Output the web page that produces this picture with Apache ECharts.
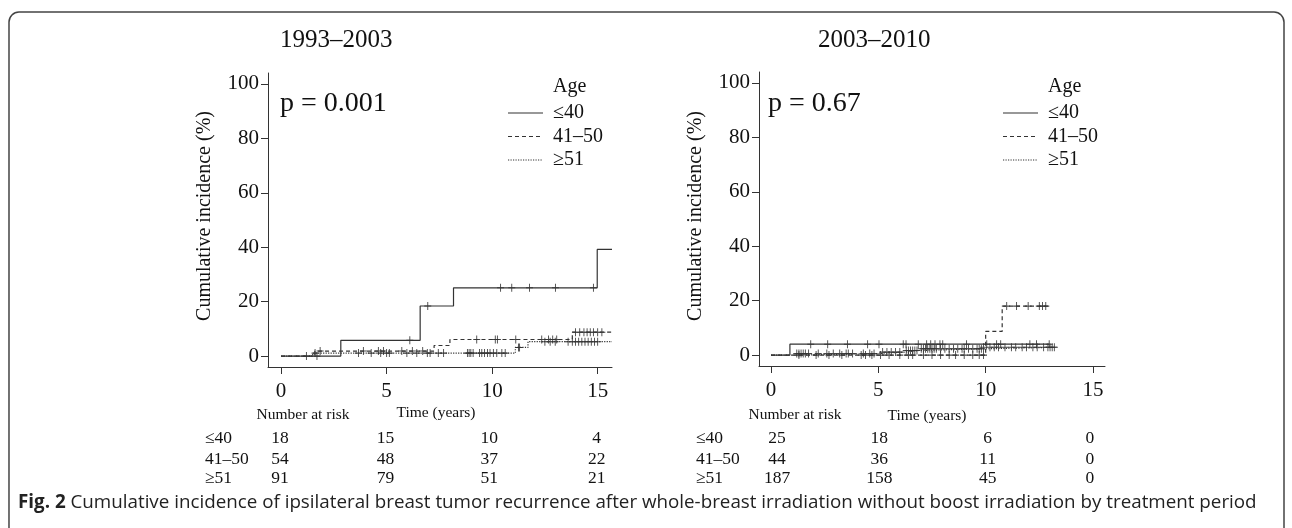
<!DOCTYPE html>
<html>
<head>
<meta charset="utf-8">
<script src="https://cdn.jsdelivr.net/npm/echarts@6.0.0/dist/echarts.min.js"></script>
<style>
  html, body { margin: 0; padding: 0; background: #fff; }
  #main { width: 1292px; height: 528px; }
</style>
</head>
<body>
<div id="main"></div>
<script>
// step curves: [time, cumulative incidence from that time on]
const left_le40 = [[0, 0], [2.83, 5.8], [6.59, 18.4], [8.17, 25.1], [14.98, 39.2], [15.68, 39.2]];
const left_41to50 = [[0, 0], [1.6, 1.85], [7.25, 3.9], [8.0, 6.1], [13.8, 8.8], [15.68, 8.8]];
const left_ge51 = [[0, 0], [1.5, 1.1], [11.1, 3.2], [11.7, 5.3], [15.68, 5.3]];

const right_le40 = [[0, 0], [0.88, 4.0], [12.96, 4.0]];
const right_41to50 = [[0, 0], [10.0, 8.7], [10.77, 18.0], [12.95, 18.0]];
const right_ge51 = [[0, 0], [1.0, 0.55], [4.9, 1.1], [6.2, 1.7], [6.9, 2.3], [9.9, 2.9], [13.3, 2.9]];

// censoring times
const left_le40_cens = [1.2, 1.7, 6.1, 6.95, 10.4, 10.93, 11.77, 13.0, 14.8];
const left_41to50_cens = [1.85, 3.9, 4.61, 4.85, 5.72, 6.22, 6.71, 9.27, 10.15, 10.25, 11.12, 12.35, 12.67, 12.87, 13.06,
  13.95, 14.15, 14.35, 14.5, 14.65, 14.8, 15.0, 15.2];
const left_ge51_cens = [1.61, 3.67, 4.27, 4.72, 5.0, 5.13, 5.96, 6.43, 6.93, 7.06, 7.45, 7.7, 8.83, 8.91, 8.99, 9.1,
  9.4, 9.51, 9.64, 9.78, 9.9, 10.06, 10.22, 10.46, 10.62, 11.25, 11.3, 12.5, 12.75, 12.99, 13.6, 13.8, 13.95,
  14.1, 14.25, 14.4, 14.55, 14.7, 14.85, 15.0];

const right_le40_cens = [1.85, 2.64, 3.56, 4.5, 5.03, 6.16, 6.29, 6.86, 7.25, 7.44, 7.64, 7.87, 8.0, 9.11, 10.05,
  10.51, 10.7, 12.06, 12.37, 12.96];
const right_41to50_cens = [1.3, 2.1, 2.7, 3.3, 4.2, 4.4, 4.7, 5.1, 5.5, 6.0, 6.4, 6.6, 7.1, 7.5, 7.9, 8.3, 8.6, 9.0,
  9.4, 9.7, 9.9, 10.98, 11.44, 11.98, 12.5, 12.65, 12.8];
const right_ge51_cens = [1.2, 1.3, 1.4, 1.5, 1.6, 1.75, 2.2, 2.6, 2.9, 3.2, 3.5, 3.6, 3.8, 4.3, 4.6, 4.8, 5.2, 5.4,
  5.6, 5.8, 6.0, 6.3, 6.4, 6.5, 6.6, 6.7, 6.8, 7.0, 7.1, 7.2, 7.3, 7.4, 7.5, 7.6, 7.7, 7.9, 8.1, 8.3, 8.5, 8.7,
  8.9, 9.0, 9.2, 9.4, 9.6, 9.7, 9.8, 9.9, 10.2, 10.4, 10.6, 10.9, 11.2, 11.4, 11.7, 11.9, 12.2, 12.4, 12.7, 12.9,
  13.0, 13.1, 13.2];

const groups = ["\u226440", "41\u201350", "\u226551"];
const xTicks = [0, 5, 10, 15];
const yTicks = [0, 20, 40, 60, 80, 100];
const riskTimes = [0, 5, 10, 15];
const left_risk = [[18, 15, 10, 4], [54, 48, 37, 22], [91, 79, 51, 21]];
const right_risk = [[25, 18, 6, 0], [44, 36, 11, 0], [187, 158, 45, 0]];

const titles = ["1993\u20132003", "2003\u20132010"];
const pValues = ["p = 0.001", "p = 0.67"];
const caption = "Cumulative incidence of ipsilateral breast tumor recurrence after whole-breast irradiation without boost irradiation by treatment period";

const SERIF = "Liberation Serif";
const INK = "#333";
const lineTypes = ["solid", [4, 3], [1.2, 1.3]];
const plusPath = "path://M4.35,0H5.65V4.35H10V5.65H5.65V10H4.35V5.65H0V4.35H4.35Z";

function stepAt(curve, t) {
  let v = 0;
  for (const [x, y] of curve) {
    if (x <= t) v = y; else break;
  }
  return v;
}

const panels = [
  { curves: [left_le40, left_41to50, left_ge51], cens: [left_le40_cens, left_41to50_cens, left_ge51_cens],
    grid: { left: 268, top: 73, width: 344, height: 294 }, xmin: -0.62, xmax: 15.68 },
  { curves: [right_le40, right_41to50, right_ge51], cens: [right_le40_cens, right_41to50_cens, right_ge51_cens],
    grid: { left: 759, top: 72, width: 346, height: 294 }, xmin: -0.56, xmax: 15.56 }
];

const axisLine = { show: true, onZero: false, lineStyle: { color: INK, width: 1 } };
const axisLabel = { fontFamily: SERIF, fontSize: 21, color: "#111" };

const grid = [], xAxis = [], yAxis = [], series = [];
panels.forEach((p, i) => {
  grid.push(p.grid);
  xAxis.push({
    gridIndex: i, type: "value", min: p.xmin, max: p.xmax,
    axisLine: axisLine, splitLine: { show: false },
    axisTick: { customValues: xTicks, length: 7, lineStyle: { color: INK } },
    axisLabel: Object.assign({ customValues: xTicks, margin: 14 }, axisLabel)
  });
  yAxis.push({
    gridIndex: i, type: "value", min: -4, max: 104,
    axisLine: axisLine, splitLine: { show: false },
    axisTick: { show: true, customValues: yTicks, length: 7, lineStyle: { color: INK } },
    axisLabel: Object.assign({ customValues: yTicks, margin: 9 }, axisLabel)
  });
  p.curves.forEach((c, k) => {
    series.push({
      type: "line", xAxisIndex: i, yAxisIndex: i, step: "end", data: c,
      showSymbol: false, silent: true,
      lineStyle: { color: INK, width: 1.2, type: lineTypes[k] }
    });
    series.push({
      type: "scatter", xAxisIndex: i, yAxisIndex: i, silent: true,
      data: p.cens[k].map(t => [t, stepAt(c, t)]),
      symbol: plusPath, symbolSize: [7, 8],
      itemStyle: { color: INK, opacity: 0.9 }
    });
  });
});

const chart = echarts.init(document.getElementById("main"));
chart.setOption({
  animation: false,
  backgroundColor: "#fff",
  grid: grid, xAxis: xAxis, yAxis: yAxis, series: series
});

// annotations, legend, risk table
const g = [];
g.push({ type: "rect", shape: { x: 9, y: 12, width: 1275, height: 560, r: 10 },
  style: { fill: "none", stroke: "#444", lineWidth: 1.5 } });
function txt(x, y, text, size, align, extra) {
  return Object.assign({ type: "text", x: x, y: y,
    style: { text: text, fontFamily: SERIF, fontSize: size, fill: "#111",
      align: align || "left", verticalAlign: "middle" } }, extra || {});
}
const titleX = [280, 818];
const pX = [280, 768];
const legX = [508, 1003];
const ylabX = [205, 696];
const rowLabX = [205, 696];
const narX = [303, 795];
const timeX = [436, 927];
const timeY = [413, 416];
const rowY = [438, 459, 478];
const riskTables = [left_risk, right_risk];
const riskShift = [[-1, -1, -3, -1], [6, 1, 2, -3]];

panels.forEach((p, i) => {
  g.push(txt(titleX[i], 40, titles[i], 25, "left"));
  g.push(txt(pX[i], 104, pValues[i], 28, "left"));
  g.push(txt(ylabX[i], 216, "Cumulative incidence (%)", 20, "center", { rotation: Math.PI / 2 }));
  g.push(txt(legX[i] + 45, 87, "Age", 20, "left"));
  groups.forEach((name, k) => {
    const y = 113 + k * 23.5;
    g.push({ type: "line", shape: { x1: legX[i], y1: y, x2: legX[i] + 35, y2: y },
      style: { stroke: INK, lineWidth: 1.2, lineDash: lineTypes[k] === "solid" ? null : lineTypes[k] } });
    g.push(txt(legX[i] + 45, y, name, 20, "left"));
  });
  g.push(txt(narX[i], 415, "Number at risk", 15.5, "center"));
  g.push(txt(timeX[i], timeY[i], "Time (years)", 15.5, "center"));
  groups.forEach((name, k) => {
    g.push(txt(rowLabX[i], rowY[k], name, 17.5, "left"));
    riskTables[i][k].forEach((n, j) => {
      const px = chart.convertToPixel({ gridIndex: i }, [riskTimes[j], 0])[0] + riskShift[i][j];
      g.push(txt(px, rowY[k], String(n), 17.5, "center"));
    });
  });
});
g.push({ type: "text", x: 18, y: 503, style: {
  text: "{b|Fig. 2} " + caption, fontFamily: "Open Sans", fontSize: 18.8, fill: "#222",
  verticalAlign: "middle", rich: { b: { fontWeight: "bold", fontFamily: "Open Sans", fontSize: 18.8, fill: "#222" } } } });

chart.setOption({ graphic: g });
</script>
</body>
</html>
